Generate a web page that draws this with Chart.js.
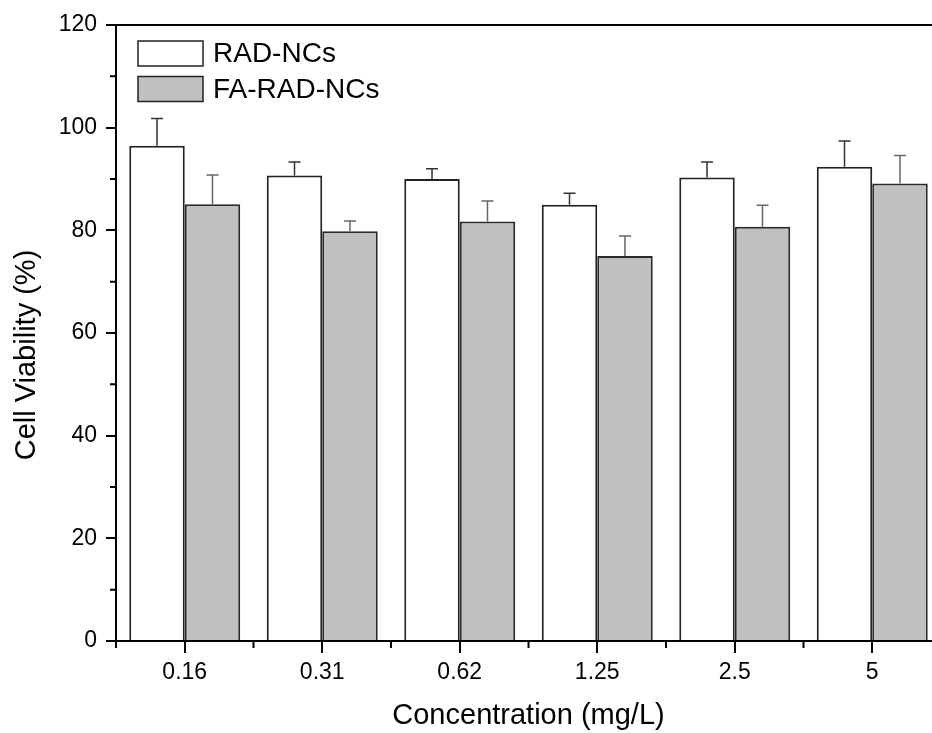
<!DOCTYPE html>
<html>
<head>
<meta charset="utf-8">
<script src="https://cdn.jsdelivr.net/npm/chart.js@4/dist/chart.umd.min.js"></script>
<style>
html,body{margin:0;padding:0;background:#fff;overflow:hidden;}
#wrap{width:932px;height:733px;overflow:hidden;position:relative;}
#c{position:absolute;left:0;top:0;}
</style>
</head>
<body>
<div id="wrap"><canvas id="c" width="960" height="733"></canvas></div>
<script>
const categories = ['0.16', '0.31', '0.62', '1.25', '2.5', '5'];
const radValues = [96.5, 90.7, 90.0, 85.0, 90.3, 92.4];
const radErrors = [5.3, 2.6, 2.0, 2.2, 3.0, 5.0];
const faValues = [85.1, 79.8, 81.7, 75.0, 80.7, 89.1];
const faErrors = [5.7, 2.0, 4.0, 3.9, 4.2, 5.5];
const seriesNames = ['RAD-NCs', 'FA-RAD-NCs'];
const yTicks = [0, 20, 40, 60, 80, 100, 120];
const yMinorTicks = [10, 30, 50, 70, 90, 110];
const xTitle = 'Concentration (mg/L)';
const yTitle = 'Cell Viability (%)';

const FONT = "'Liberation Sans', Arial, sans-serif";

const errorBars = {
  id: 'errorBars',
  afterDatasetsDraw(chart) {
    const ctx = chart.ctx;
    const ys = chart.scales.y;
    const errs = [radErrors, faErrors];
    const cols = ['#333', '#666'];
    chart.data.datasets.forEach((ds, di) => {
      const meta = chart.getDatasetMeta(di);
      meta.data.forEach((el, i) => {
        const top = ys.getPixelForValue(ds.data[i] + errs[di][i]);
        ctx.save();
        ctx.strokeStyle = cols[di];
        ctx.lineWidth = 1.5;
        ctx.beginPath();
        ctx.moveTo(el.x, el.y);
        ctx.lineTo(el.x, top);
        ctx.moveTo(el.x - 6, top);
        ctx.lineTo(el.x + 6, top);
        ctx.stroke();
        ctx.restore();
      });
    });
  }
};

const decorations = {
  id: 'decorations',
  afterDraw(chart) {
    const ctx = chart.ctx;
    const a = chart.chartArea;
    const ys = chart.scales.y, xs = chart.scales.x;
    ctx.save();
    ctx.strokeStyle = '#000';
    ctx.lineWidth = 2;
    // top frame line
    ctx.beginPath();
    ctx.moveTo(a.left - 1, a.top);
    ctx.lineTo(a.right + 20, a.top);
    ctx.stroke();
    // y minor ticks
    ctx.beginPath();
    yMinorTicks.forEach(v => {
      const y = ys.getPixelForValue(v);
      ctx.moveTo(a.left - 6, y);
      ctx.lineTo(a.left, y);
    });
    // x minor ticks at category boundaries
    for (let i = 0; i <= categories.length; i++) {
      const x = xs.getPixelForValue(i - 0.5);
      ctx.moveTo(x, a.bottom);
      ctx.lineTo(x, a.bottom + 7);
    }
    ctx.stroke();
    // y title
    ctx.fillStyle = '#000';
    ctx.font = '29px ' + FONT;
    ctx.textAlign = 'center';
    ctx.textBaseline = 'middle';
    ctx.translate(27, 355);
    ctx.rotate(-Math.PI / 2);
    ctx.fillText(yTitle, 0, 0);
    ctx.restore();

    // legend
    ctx.save();
    const fills = ['#ffffff', '#c0c0c0'];
    chart.data.datasets.forEach((ds, i) => {
      const bx = a.left + 22, by = a.top + 16 + i * 35.5;
      ctx.fillStyle = fills[i];
      ctx.fillRect(bx, by, 65, 25);
      ctx.strokeStyle = '#222';
      ctx.lineWidth = 1.5;
      ctx.strokeRect(bx, by, 65, 25);
      ctx.fillStyle = '#000';
      ctx.font = '28px ' + FONT;
      ctx.textAlign = 'left';
      ctx.textBaseline = 'middle';
      ctx.fillText(ds.label, bx + 75, by + 13.5);
    });
    ctx.restore();
  }
};

new Chart(document.getElementById('c'), {
  type: 'bar',
  data: {
    labels: categories,
    datasets: [
      { label: seriesNames[0], data: radValues, backgroundColor: '#ffffff', borderColor: '#222', borderWidth: 2,
        categoryPercentage: 0.807, barPercentage: 1.0 },
      { label: seriesNames[1], data: faValues, backgroundColor: '#c0c0c0', borderColor: '#2a2a2a', borderWidth: 2,
        categoryPercentage: 0.807, barPercentage: 1.0 }
    ]
  },
  options: {
    responsive: false,
    animation: false,
    devicePixelRatio: 1,
    layout: { padding: { top: 25, right: 19, left: 0, bottom: 0 } },
    plugins: { legend: { display: false }, tooltip: { enabled: false } },
    scales: {
      x: {
        grid: { display: true, drawOnChartArea: false, offset: false, color: '#000', lineWidth: 2, tickLength: 12 },
        border: { display: true, color: '#000', width: 2 },
        ticks: { color: '#000', font: { family: FONT, size: 23 }, padding: 6, maxRotation: 0 },
        title: { display: true, text: xTitle, color: '#000', font: { family: FONT, size: 29 }, padding: { top: 0, bottom: 0 } },
        afterFit(s) { s.height = 92; }
      },
      y: {
        min: 0, max: 120,
        afterBuildTicks(s) { s.ticks = yTicks.map(v => ({ value: v })); },
        grid: { display: true, drawOnChartArea: false, color: '#000', lineWidth: 2, tickLength: 10 },
        border: { display: true, color: '#000', width: 2 },
        ticks: { color: '#000', font: { family: FONT, size: 23 }, padding: 9 },
        afterFit(s) { s.width = 116; }
      }
    }
  },
  plugins: [errorBars, decorations]
});
</script>
</body>
</html>
